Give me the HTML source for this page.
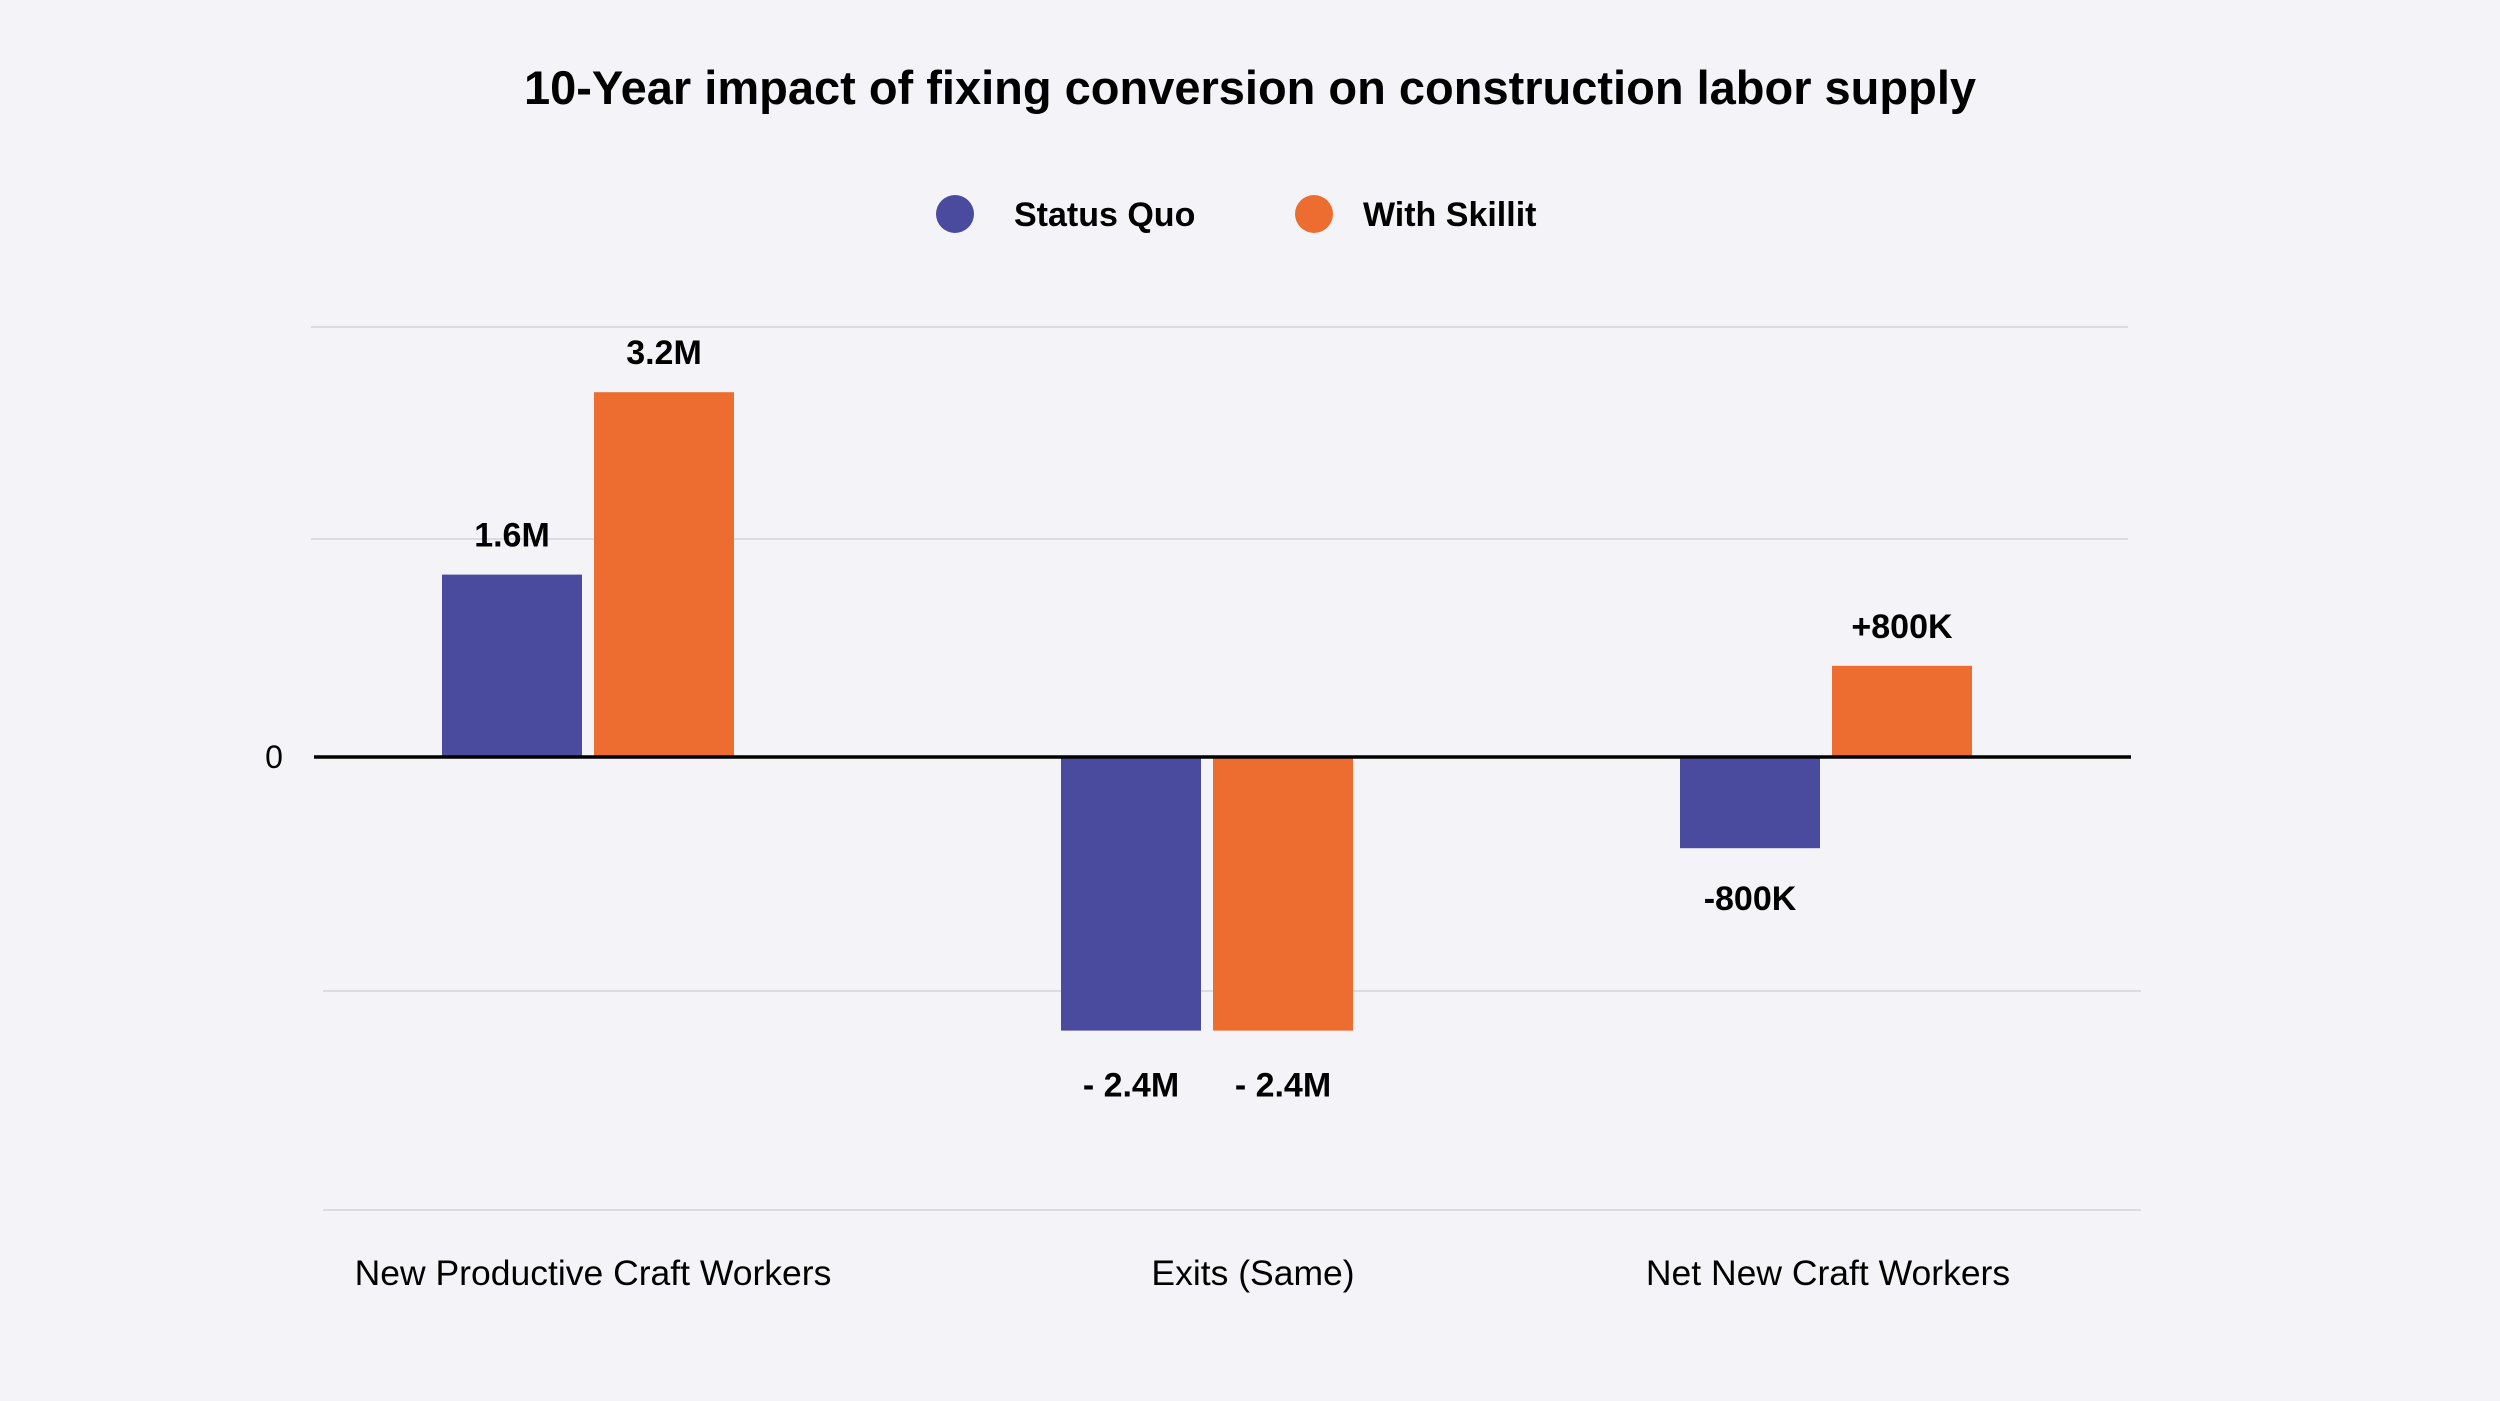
<!DOCTYPE html>
<html><head><meta charset="utf-8"><style>
html,body{margin:0;padding:0;background:#f4f4f8;}
svg{display:block;font-family:"Liberation Sans",sans-serif;}
</style></head><body>
<svg id="chart" width="2500" height="1401" viewBox="0 0 2500 1401">
<rect x="0" y="0" width="2500" height="1401" fill="#f4f4f8"/>
<text x="1250" y="104" text-anchor="middle" font-size="47" font-weight="bold" fill="#000">10-Year impact of fixing conversion on construction labor supply</text>
<g>
<g>
<circle cx="955" cy="214" r="19" fill="#4a4b9e"/>
<text x="1014" y="226" font-size="34" font-weight="bold">Status Quo</text>
</g>
<g>
<circle cx="1314" cy="214" r="19" fill="#ed6c30"/>
<text x="1363" y="226" font-size="34" font-weight="bold">With Skillit</text>
</g>
</g>
<g id="grid">
<line x1="311" x2="2128" y1="327" y2="327" stroke="#dcdce0" stroke-width="2"/>
<line x1="311" x2="2128" y1="539" y2="539" stroke="#dcdce0" stroke-width="2"/>
<line x1="323" x2="2141" y1="991" y2="991" stroke="#dcdce0" stroke-width="2"/>
<line x1="323" x2="2141" y1="1210" y2="1210" stroke="#dcdce0" stroke-width="2"/>
</g>
<g id="bars"></g>
<line x1="314" x2="2131" y1="757" y2="757" stroke="#000" stroke-width="3.5"/>
<text x="274" y="768" text-anchor="middle" font-size="32" fill="#000">0</text>
<g id="xlabels"></g>
</svg>
<script>
const categories = ["New Productive Craft Workers", "Exits (Same)", "Net New Craft Workers"];
const statusQuo = [1.6, -2.4, -0.8];
const withSkillit = [3.2, -2.4, 0.8];
const statusQuoLabels = ["1.6M", "- 2.4M", "-800K"];
const withSkillitLabels = ["3.2M", "- 2.4M", "+800K"];

const NS = "http://www.w3.org/2000/svg";
const zeroY = 757, pxPerM = 114;
function y(v){ return zeroY - v * pxPerM; }
const firstCenter = 588, step = 619, barW = 140, gap = 12;
function xCenter(i){ return firstCenter + i * step; }
const labelX = [593, 1253, 1828];

const barsG = document.getElementById('bars');
const xl = document.getElementById('xlabels');
const series = [
  {vals: statusQuo, labels: statusQuoLabels, color: "#4a4b9e", name: "status-quo", off: -(barW + gap) / 2},
  {vals: withSkillit, labels: withSkillitLabels, color: "#ed6c30", name: "with-skillit", off: (barW + gap) / 2}
];
series.forEach(s => {
  s.vals.forEach((v, i) => {
    const cx = xCenter(i) + s.off;
    const r = document.createElementNS(NS, 'rect');
    r.setAttribute('x', cx - barW / 2);
    r.setAttribute('y', Math.min(y(v), zeroY));
    r.setAttribute('width', barW);
    r.setAttribute('height', Math.abs(y(v) - zeroY));
    r.setAttribute('fill', s.color);
    
    
    barsG.appendChild(r);
    const t = document.createElementNS(NS, 'text');
    t.setAttribute('x', cx);
    t.setAttribute('y', v >= 0 ? y(v) - 28 : y(v) + (v < -1.5 ? 66 : 62));
    t.setAttribute('text-anchor', 'middle');
    t.setAttribute('font-size', '34');
    t.setAttribute('font-weight', 'bold');
    t.textContent = s.labels[i];
    
    
    barsG.appendChild(t);
  });
});
categories.forEach((c, i) => {
  const t = document.createElementNS(NS, 'text');
  t.setAttribute('x', labelX[i]);
  t.setAttribute('y', 1285);
  t.setAttribute('text-anchor', 'middle');
  t.setAttribute('font-size', '35.5');
  t.textContent = c;
  
  
  xl.appendChild(t);
});
</script>
</body></html>
